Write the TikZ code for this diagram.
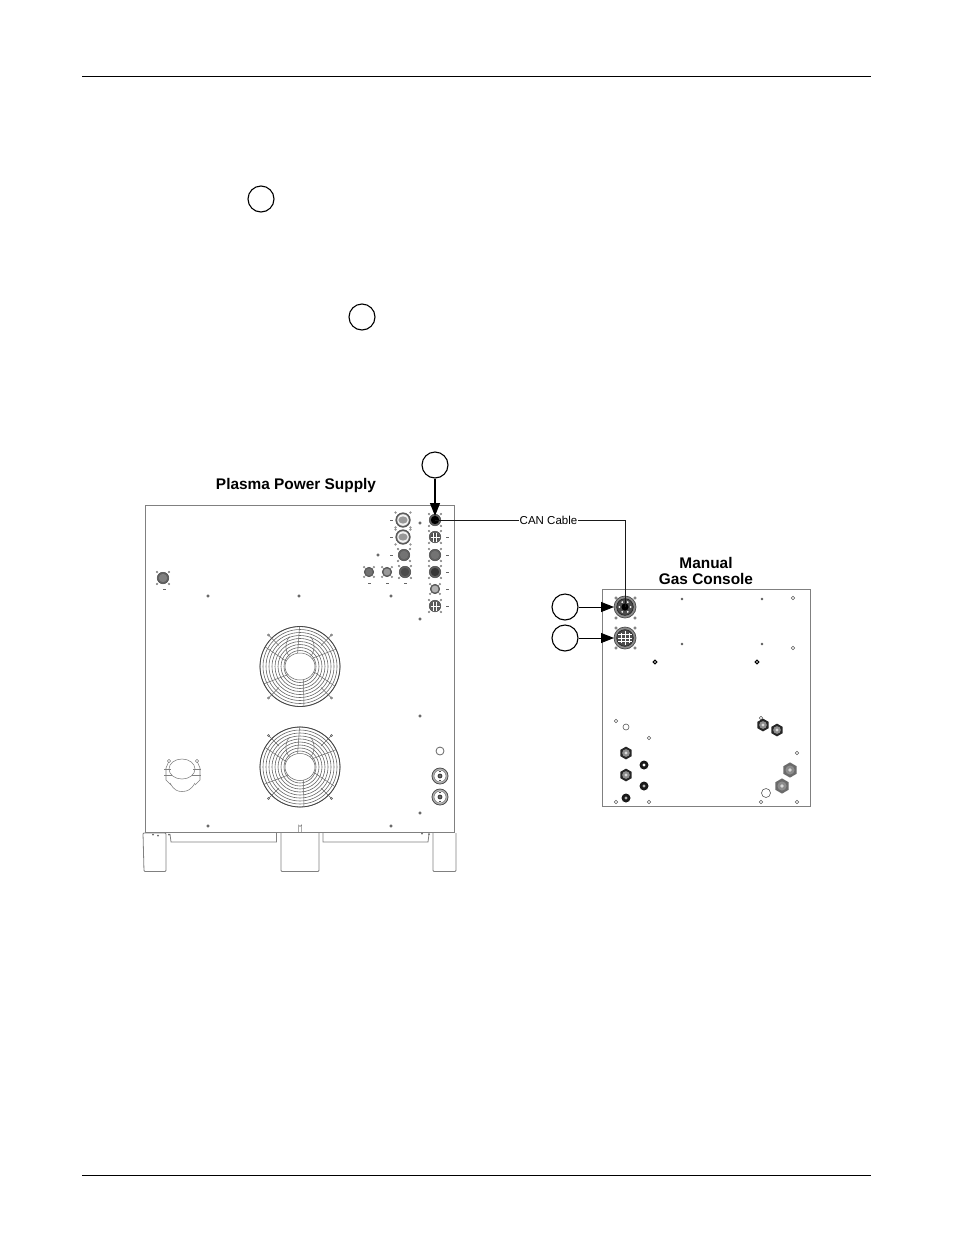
\documentclass[tikz,border=0pt]{standalone}
\usepackage{fontspec}
\setmainfont{Liberation Sans}
\usetikzlibrary{arrows.meta}
\tikzset{
  x=1pt,y=-1pt,
  callout/.style={draw=black,fill=white,circle,line width=1.1pt,minimum size=26pt,inner sep=0pt},
  rule/.style={draw=black,line width=0.7pt},
  panel/.style={draw=black!50,line width=1pt},
  thin part/.style={draw=black!50,line width=0.8pt},
  pointer/.style={draw=black,line width=1.2pt,-{Triangle[length=13pt,width=10pt]}},
  cable/.style={draw=black!90,line width=0.8pt},
  heading/.style={font=\bfseries\fontsize{15.4}{15.4}\selectfont,align=center,inner sep=0pt},
  hole/.style={draw=black!65,fill=white,line width=0.6pt},
}
% round panel connector: x, y, radius, inner fill
\newcommand{\plug}[4]{%
  \foreach \sx in {-1,1}{\foreach \sy in {-1,1}{
    \filldraw[draw=black!55,fill=black!15,line width=0.4pt] (#1+\sx*#3*1.02,#2+\sy*#3*1.02) circle (0.9);}}
  \draw[draw=black!70,line width=0.5pt,fill=black!62] (#1,#2) circle (#3);
  \fill[#4] (#1,#2) circle (#3*0.72);
}
\newcommand{\dothole}[3][0.9]{\filldraw[hole,fill=black!45] (#2,#3) circle (#1);}
\newcommand{\openhole}[3][1.8]{\filldraw[hole] (#2,#3) circle (#1);}
\newcommand{\darkring}[4][black!30]{\fill[black!90] (#2,#3) circle (#4);\fill[#1] (#2,#3) circle (#4*0.36);}
\newcommand{\hexnut}[4][black!85]{%
  \fill[#1] (#2,#3+#4) -- (#2+#4*0.87,#3+#4*0.5) -- (#2+#4*0.87,#3-#4*0.5) -- (#2,#3-#4) -- (#2-#4*0.87,#3-#4*0.5) -- (#2-#4*0.87,#3+#4*0.5) -- cycle;
  \fill[black!45] (#2,#3) circle (#4*0.6);
  \fill[black!15] (#2,#3) circle (#4*0.25);
}
\newcommand{\fan}[2]{%
  \foreach \r in {16,19,...,40}{\draw[black!60,line width=0.6pt] (#1,#2) circle (\r);}
  \draw[black!72,line width=0.8pt] (#1,#2) circle (40);
  \foreach \a in {20,75,145,200,260,325}{
    \draw[black!60,line width=0.5pt] (#1,#2) ++(\a:13.5) -- ++(\a+14:26.5);}
  \filldraw[draw=black!60,fill=white,line width=0.5pt] (#1,#2) ellipse (15 and 13.5);
  \draw[black!60,line width=0.5pt] (#1-10.5,#2-10) arc (130:230:10 and 13);
  \draw[black!60,line width=0.5pt] (#1+10.5,#2-10) arc (50:-50:10 and 13);
  \foreach \sx in {-1,1}{\foreach \sy in {-1,1}{
    \draw[black!60,line width=0.5pt] (#1+\sx*21,#2+\sy*21) -- (#1+\sx*31.5,#2+\sy*31.5);
    \filldraw[hole,fill=black!25,line width=0.4pt] (#1+\sx*31.5,#2+\sy*31.5) circle (1.2);}}
}
\begin{document}
\begin{tikzpicture}
\useasboundingbox (0,0) rectangle (954,1235);
\fill[white] (0,0) rectangle (954,1235);

% page rules
\coordinate (hl) at (82,76); \coordinate (hr) at (871,76);
\coordinate (fl) at (82,1175); \coordinate (fr) at (871,1175);
\draw[rule] (hl) -- (hr);
\draw[rule] (fl) -- (fr);

% callouts in the text area
\node[callout] (c1) at (261,199) {};
\node[callout] (c2) at (362,317) {};

% power supply
\draw[panel] (145,505) rectangle (454,832);
\draw[thin part,rounded corners=1pt] (166,833) -- (166,871.5) -- (144,871.5) -- (143,833) -- cycle;
\draw[thin part,rounded corners=1pt] (281,833) -- (281,871.5) -- (319,871.5) -- (319,833);
\draw[thin part,rounded corners=1pt] (433,833) -- (433,871.5) -- (456,871.5) -- (456,833);
\draw[thin part] (170,834) -- (171,842) -- (276.5,842) -- (276.5,833);
\draw[thin part] (323,833) -- (323,842) -- (428,842) -- (429,834);
\draw[thin part,line width=0.5pt] (298.5,832) -- (298.5,825) arc (180:0:1.5) -- (301.5,832);
\foreach \px/\py in {153/834.5,158/835.5,169/834.5,422/833.5,429/834}{\fill[black!60] (\px,\py) circle (1);}

\node[heading] (ppstitle) at (296,485.5) {Plasma Power Supply};

\fan{300}{666.5}
\fan{300}{767}

% power supply connectors
\plug{403}{520}{7.3}{black!15}
\plug{403}{537}{7.3}{black!15}
\foreach \py in {520,537}{
  \fill[black!5] (403,\py) circle (5.8);
  \fill[black!40] (403,\py) ellipse (4.6 and 3.6);}
\plug{404}{555}{5.8}{black!55}
\plug{405}{572}{5.8}{black!70}
\plug{387}{572}{4.8}{black!40}
\plug{369}{572}{4.8}{black!55}
\plug{435}{520}{5.8}{black}
\plug{435}{537}{5.8}{black!70}
\plug{435}{555}{5.8}{black!55}
\plug{435}{572}{5.8}{black!78}
\plug{435}{589}{4.8}{black!30}
\plug{435}{606}{5.8}{black!65}
\plug{163}{578}{5.8}{black!50}
\draw[white,line width=0.4pt] (433.5,532.5) -- (433.5,541.5) (436.5,532.5) -- (436.5,541.5) (430.5,537) -- (439.5,537);
\draw[white,line width=0.4pt] (433.5,601.5) -- (433.5,610.5) (436.5,601.5) -- (436.5,610.5) (430.5,606) -- (439.5,606);

\foreach \px/\py in {390/520,390/537,390/555,446/520,446/537,446/555,446/572,446/589,446/606,368/583,386/583,404/583,163/589}{
  \fill[black!60] (\px,\py) rectangle +(3,1.2);}

\foreach \px/\py in {420/523,420/619,378/555,208/596,299/596,391/596,420/716,420/813,208/826,391/826}{
  \dothole[1.3]{\px}{\py}}

\draw[black!60,fill=white,line width=0.8pt] (440,751) circle (4);
\foreach \py in {776,797}{
  \draw[black!70,fill=black!30,line width=0.8pt] (440,\py) circle (8);
  \draw[black!55,fill=white,line width=0.5pt] (440,\py) circle (6);
  \fill[black!75] (440,\py) circle (2.4);
  \fill[white] (440,\py) circle (0.7);
  \fill[black!70] (438.6,\py-4.6) rectangle (441.4,\py-3.6);
  \fill[black!70] (438.6,\py+3.6) rectangle (441.4,\py+4.6);
}

% hook at lower left
\draw[thin part,line width=0.55pt] (182,769) ellipse (13 and 10);
\draw[thin part,line width=0.55pt] (170,783) .. controls (174,790) and (177,791.5) .. (182,791.5) .. controls (187,791.5) and (191,790) .. (195,783);
\draw[thin part,line width=0.55pt] (169,761) -- (166,768) -- (166,780) -- (171,785);
\draw[thin part,line width=0.55pt] (197,761) -- (200,768) -- (200,780) -- (195,785);
\draw[thin part,line width=0.55pt] (164,769) -- (171,769) (193,769) -- (201,769) (164,775) -- (172,775) (192,775) -- (201,775);
\foreach \px in {169,197}{\filldraw[hole,line width=0.4pt] (\px,761) circle (1.6);}

% gas console
\draw[panel] (602,589) rectangle (810,806);
\node[heading] (gctitle) at (706,571) {Manual\\Gas Console};

\foreach \py in {598,618,628,648}{
  \foreach \px in {616,635}{\openhole[1.3]{\px}{\py}}}
\foreach \py in {607,638}{
  \draw[black!70,line width=0.7pt,fill=black!45] (625,\py) circle (11);
  \draw[black!85,line width=0.7pt,fill=black!70] (625,\py) circle (8.3);
}
\fill[black] (625,607) circle (3.6);
\foreach \a in {0,60,...,300}{\fill[white] (625,607) ++(\a:5.6) circle (1);}
\draw[white,line width=0.7pt] (621,633) -- (621,643) (625,631) -- (625,645) (629,633) -- (629,643) (618,634.5) -- (632,634.5) (618,638) -- (632,638) (618,641.5) -- (632,641.5);

\foreach \px/\py in {682/599,762/599,682/644,762/644}{\dothole[1]{\px}{\py}}
\foreach \px/\py in {793/598,793/648,616/721,649/738,761/718,797/753,616/802,649/802,761/802,797/802}{\openhole{\px}{\py}}
\openhole[3]{626}{727}
\openhole[4.5]{766}{793}
\foreach \px/\py in {655/662,757/662}{\draw[black,line width=1.1pt,fill=white] (\px,\py) circle (1.8);}
\hexnut{626}{753}{6.4}
\hexnut{626}{775}{6.4}
\hexnut{763}{725}{6.4}
\hexnut{777}{730}{6.4}
\hexnut[black!58]{790}{770}{7.6}
\hexnut[black!58]{782}{786}{7.6}
\darkring[white]{644}{765}{4.5}
\darkring{644}{786}{4.5}
\darkring{626}{798}{4.5}

% callouts and pointers
\node[callout] (c3) at (435,465) {};
\node[callout] (c4) at (565,607) {};
\node[callout] (c5) at (565,638) {};
\coordinate (psport) at (435,516);
\coordinate (gcport1) at (614,607);
\coordinate (gcport2) at (614,638);
\draw[pointer] (c3) -- (psport);
\draw[pointer,line width=0.9pt] (c4) -- (gcport1);
\draw[pointer,line width=0.9pt] (c5) -- (gcport2);

% cable
\coordinate (canstart) at (435,520);
\coordinate (canend) at (625,607);
\node[font=\fontsize{11.5}{13}\selectfont,inner sep=1pt] (canlabel) at (548.5,520) {CAN Cable};
\draw[cable] (canstart) -- (canlabel.west);
\draw[cable] (canlabel.east) -- (625,520) -- (canend);
\end{tikzpicture}
\end{document}
